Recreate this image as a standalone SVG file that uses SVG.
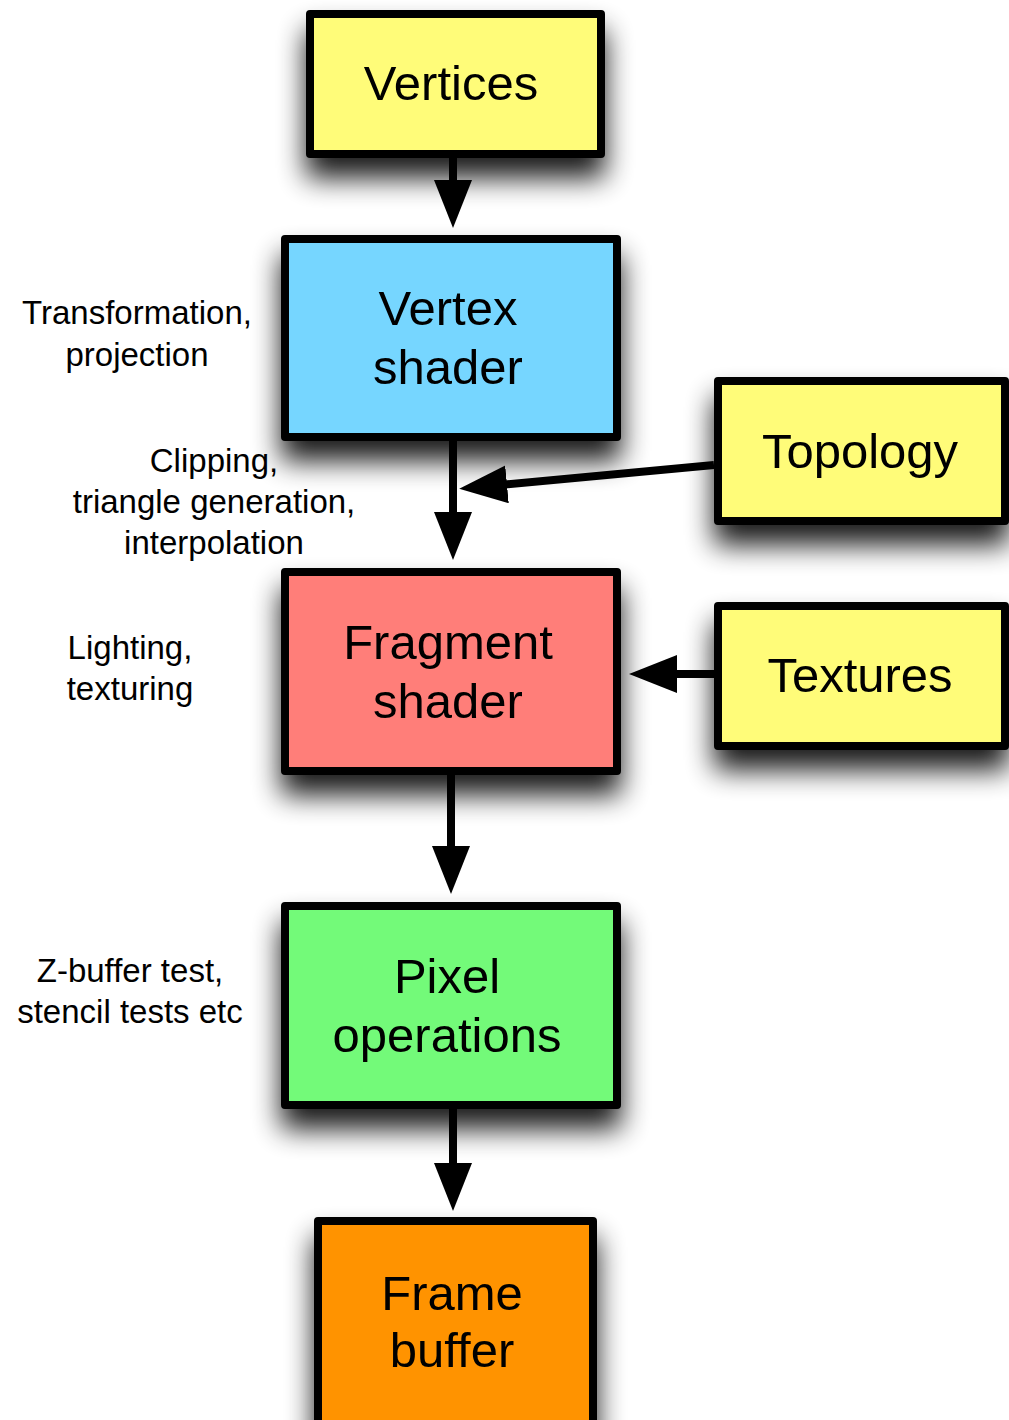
<svg xmlns="http://www.w3.org/2000/svg" width="1009" height="1420" viewBox="0 0 1009 1420">
  <style>
    .box { stroke: #000; stroke-width: 8; stroke-linejoin: round; filter: url(#shadow); }
    .lbl { font-family: "Liberation Sans", Arial, Helvetica, sans-serif; font-size: 49px; fill: #000; text-anchor: middle; }
    .side { font-family: "Liberation Sans", Arial, Helvetica, sans-serif; font-size: 33px; fill: #000; text-anchor: middle; }
    .conn { stroke: #000; stroke-width: 8; fill: none; marker-end: url(#arrow); }
  </style>
  <defs>
    <filter id="shadow" x="-40%" y="-40%" width="180%" height="200%">
      <feGaussianBlur in="SourceAlpha" stdDeviation="14"/>
      <feOffset dx="0" dy="20" result="b"/>
      <feComponentTransfer><feFuncA type="linear" slope="0.9"/></feComponentTransfer>
      <feMerge><feMergeNode/><feMergeNode in="SourceGraphic"/></feMerge>
    </filter>
    <marker id="arrow" markerUnits="userSpaceOnUse" viewBox="0 0 48 38" refX="2" refY="19" markerWidth="48" markerHeight="38" orient="auto">
      <path d="M0,0 L48,19 L0,38 Z" fill="#000"/>
    </marker>
  </defs>
  <rect width="1009" height="1420" fill="#fff"/>

  <g id="side-labels">
    <text class="side" x="137" y="324">Transformation,</text>
    <text class="side" x="137" y="366">projection</text>
    <text class="side" x="214" y="472">Clipping,</text>
    <text class="side" x="214" y="513">triangle generation,</text>
    <text class="side" x="214" y="554">interpolation</text>
    <text class="side" x="130" y="659">Lighting,</text>
    <text class="side" x="130" y="700">texturing</text>
    <text class="side" x="130" y="982">Z-buffer test,</text>
    <text class="side" x="130" y="1023">stencil tests etc</text>
  </g>

  <g id="vertices">
    <rect class="box" x="310" y="14" width="291" height="140" fill="#FFFC79"/>
    <text class="lbl" x="451" y="100">Vertices</text>
  </g>
  <g id="vertex-shader">
    <rect class="box" x="285" y="239" width="332" height="198" fill="#76D6FF"/>
    <text class="lbl" x="448" y="325">Vertex</text>
    <text class="lbl" x="448" y="384">shader</text>
  </g>
  <g id="topology">
    <rect class="box" x="718" y="381" width="287" height="140" fill="#FFFC79"/>
    <text class="lbl" x="860" y="468">Topology</text>
  </g>
  <g id="fragment-shader">
    <rect class="box" x="285" y="572" width="332" height="199" fill="#FF7E79"/>
    <text class="lbl" x="448" y="659">Fragment</text>
    <text class="lbl" x="448" y="718">shader</text>
  </g>
  <g id="textures">
    <rect class="box" x="718" y="606" width="287" height="140" fill="#FFFC79"/>
    <text class="lbl" x="860" y="692">Textures</text>
  </g>
  <g id="pixel-operations">
    <rect class="box" x="285" y="906" width="332" height="199" fill="#73FA79"/>
    <text class="lbl" x="447" y="993">Pixel</text>
    <text class="lbl" x="447" y="1052">operations</text>
  </g>
  <g id="frame-buffer">
    <rect class="box" x="318" y="1221" width="275" height="240" fill="#FF9300"/>
    <text class="lbl" x="452" y="1310">Frame</text>
    <text class="lbl" x="452" y="1367">buffer</text>
  </g>

  <g id="connectors">
    <line class="conn" x1="453" y1="158" x2="453" y2="182"/>
    <line class="conn" x1="453" y1="441" x2="453" y2="514"/>
    <line class="conn" x1="714" y1="465" x2="505" y2="484.5"/>
    <line class="conn" x1="714" y1="674" x2="675" y2="674"/>
    <line class="conn" x1="451" y1="775" x2="451" y2="848"/>
    <line class="conn" x1="453" y1="1109" x2="453" y2="1165"/>
  </g>
</svg>
